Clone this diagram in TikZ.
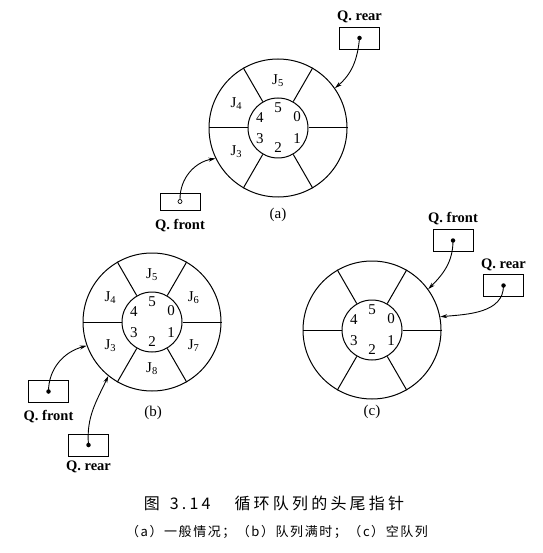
\documentclass[tikz,border=0pt]{standalone}
\usepackage{fontspec}
\setmainfont{Liberation Serif}
\newfontfamily\cjk{Noto Sans CJK SC}
\newfontfamily\cjkwide[LetterSpace=20]{Noto Sans CJK SC}
\newfontfamily\cjkmid[LetterSpace=12]{Noto Sans CJK SC}
\usetikzlibrary{positioning,arrows.meta}

\begin{document}
\begin{tikzpicture}[x=1pt,y=1pt,
                    ring/.style = {draw, circle, line width=1pt, minimum size=138pt, inner sep=0pt},
                    hub/.style = {draw, circle, line width=1pt, minimum size=60pt, inner sep=0pt},
                    ptrbox/.style = {draw, rectangle, line width=0.9pt, minimum width=40pt, minimum height=22pt, inner sep=0pt},
                    ptrdot/.style = {circle, fill, inner sep=0pt, minimum size=4.5pt},
                    ptrname/.style = {font=\fontsize{14.5}{16}\selectfont\bfseries, inner sep=1pt},
                    ptr/.style = {line width=0.9pt, -{Stealth[length=7pt,width=4pt]}},
                    every node/.style = {font=\fontsize{15}{17}\selectfont}]
    \useasboundingbox (0,0) rectangle (542,-553);

    % (a) general case
    \node[ring] (ringA) at (278,-128) {};
    \node[hub] (hubA) at (ringA.center) {};
    \foreach \a in {0,60,...,300}
        \draw[line width=1pt] (hubA.\a) -- (ringA.\a);
    \node (jA5) at ([shift={(90:47)}]ringA.center) {J\textsubscript{5}};
    \node (jA4) at ([shift={(150:48)}]ringA.center) {J\textsubscript{4}};
    \node (jA3) at ([shift={(210:48)}]ringA.center) {J\textsubscript{3}};
    \node (nA5) at ([shift={(90:20)}]ringA.center) {5};
    \node (nA0) at ([shift={(30:22)}]ringA.center) {0};
    \node (nA1) at ([shift={(-30:22)}]ringA.center) {1};
    \node (nA2) at ([shift={(-90:20)}]ringA.center) {2};
    \node (nA3) at ([shift={(210:21)}]ringA.center) {3};
    \node (nA4) at ([shift={(150:21)}]ringA.center) {4};
    \node[ptrbox] (rearA) at (359.5,-38) {};
    \node[ptrdot] (dRearA) at (rearA.center) {};
    \node[ptrname, above=2pt of rearA] (lRearA) {Q. rear};
    \node[ptrbox, minimum height=17pt] (frontA) at (180,-201.5) {};
    \node[draw, circle, inner sep=0pt, minimum size=4pt, line width=0.7pt] (dFrontA) at (frontA.center) {};
    \node[ptrname, below=8pt of frontA] (lFrontA) {Q. front};
    \draw[ptr] (dRearA.center) to[out=-95, in=40] (ringA.35);
    \draw[ptr] (dFrontA.north) to[out=90, in=190] (ringA.206);
    \node (capA) at (278,-215) {(a)};

    % (b) full queue
    \node[ring] (ringB) at (152,-322) {};
    \node[hub] (hubB) at (ringB.center) {};
    \foreach \a in {0,60,...,300}
        \draw[line width=1pt] (hubB.\a) -- (ringB.\a);
    \node (jB5) at ([shift={(90:47)}]ringB.center) {J\textsubscript{5}};
    \node (jB6) at ([shift={(30:48)}]ringB.center) {J\textsubscript{6}};
    \node (jB7) at ([shift={(-30:48)}]ringB.center) {J\textsubscript{7}};
    \node (jB8) at ([shift={(-90:47)}]ringB.center) {J\textsubscript{8}};
    \node (jB3) at ([shift={(210:48)}]ringB.center) {J\textsubscript{3}};
    \node (jB4) at ([shift={(150:48)}]ringB.center) {J\textsubscript{4}};
    \node (nB5) at ([shift={(90:20)}]ringB.center) {5};
    \node (nB0) at ([shift={(30:22)}]ringB.center) {0};
    \node (nB1) at ([shift={(-30:22)}]ringB.center) {1};
    \node (nB2) at ([shift={(-90:20)}]ringB.center) {2};
    \node (nB3) at ([shift={(210:21)}]ringB.center) {3};
    \node (nB4) at ([shift={(150:21)}]ringB.center) {4};
    \node[ptrbox] (frontB) at (48.5,-391.5) {};
    \node[ptrdot] (dFrontB) at (frontB.center) {};
    \node[ptrname, below=6pt of frontB] (lFrontB) {Q. front};
    \node[ptrbox] (rearB) at (88.5,-445) {};
    \node[ptrdot] (dRearB) at (rearB.center) {};
    \node[ptrname, below=3pt of rearB] (lRearB) {Q. rear};
    \draw[ptr] (dFrontB.center) to[out=90, in=195] (ringB.200);
    \draw[ptr] (dRearB.center) to[out=95, in=245] (ringB.231);
    \node (capB) at (153,-413) {(b)};

    % (c) empty queue
    \node[ring] (ringC) at (372,-330) {};
    \node[hub] (hubC) at (ringC.center) {};
    \foreach \a in {0,60,...,300}
        \draw[line width=1pt] (hubC.\a) -- (ringC.\a);
    \node (nC5) at ([shift={(90:20)}]ringC.center) {5};
    \node (nC0) at ([shift={(30:22)}]ringC.center) {0};
    \node (nC1) at ([shift={(-30:22)}]ringC.center) {1};
    \node (nC2) at ([shift={(-90:20)}]ringC.center) {2};
    \node (nC3) at ([shift={(210:21)}]ringC.center) {3};
    \node (nC4) at ([shift={(150:21)}]ringC.center) {4};
    \node[ptrbox] (frontC) at (453,-240.5) {};
    \node[ptrdot] (dFrontC) at (frontC.center) {};
    \node[ptrname, above=3pt of frontC] (lFrontC) {Q. front};
    \node[ptrbox] (rearC) at (503.5,-285.5) {};
    \node[ptrdot] (dRearC) at (rearC.center) {};
    \node[ptrname, above=2pt of rearC] (lRearC) {Q. rear};
    \draw[ptr] (dFrontC.center) to[out=-90, in=45] (ringC.36);
    \draw[ptr] (dRearC.center) to[out=-90, in=5] (ringC.11);
    \node (capC) at (372,-412) {(c)};

    % figure caption
    \node[font=\cjkwide\fontsize{16}{18}\selectfont] (figTitle) at (274,-503) {图\hspace{10pt}3.14\hspace{24pt}循环队列的头尾指针};
    \node[font=\cjkmid\fontsize{13}{15}\selectfont] (figSub) at (277,-532) {（a）一般情况；（b）队列满时；（c）空队列};
\end{tikzpicture}
\end{document}
